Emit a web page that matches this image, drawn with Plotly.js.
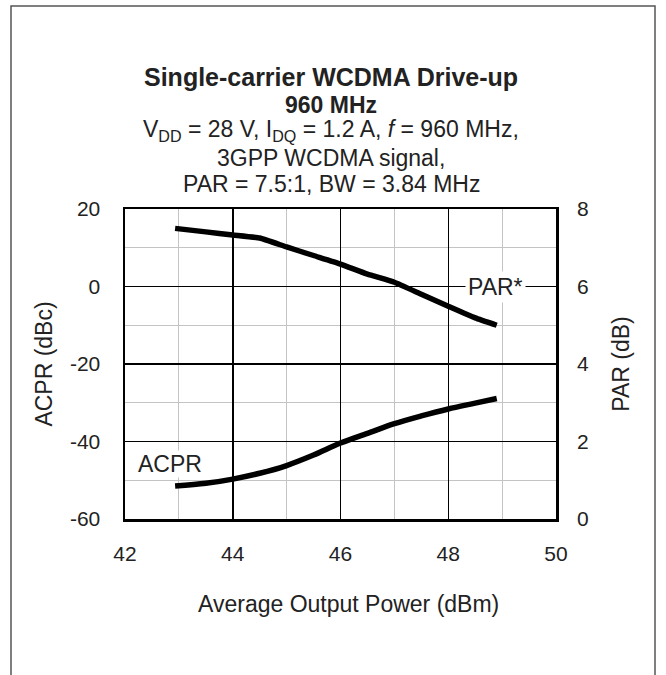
<!DOCTYPE html>
<html>
<head>
<meta charset="utf-8">
<script src="https://cdn.plot.ly/plotly-3.0.1.min.js"></script>
<style>
html,body{margin:0;padding:0;background:#fff;}
#chart{width:666px;height:675px;}
</style>
</head>
<body>
<div id="chart"></div>
<script>
// Average output power (dBm)
const pout = [42.93, 43.5, 44.0, 44.5, 45.0, 45.5, 46.0, 46.5, 47.0, 47.5, 48.0, 48.5, 48.9];
// ACPR (dBc), left axis
const acpr = [-51.5, -50.8, -49.7, -48.2, -46.2, -43.5, -40.4, -37.9, -35.4, -33.4, -31.6, -30.1, -28.9];
// PAR (dB), right axis
const par = [7.50, 7.41, 7.33, 7.25, 7.02, 6.80, 6.58, 6.32, 6.11, 5.80, 5.49, 5.19, 5.00];

const xTicks = [42, 44, 46, 48, 50];
const yTicks = [-60, -40, -20, 0, 20];
const y2Ticks = [0, 2, 4, 6, 8];

const titleLines = [
  '<b>Single-carrier WCDMA Drive-up</b>',
  '<b>960 MHz</b>',
  'V<sub>DD</sub> = 28 V, I<sub>DQ</sub> = 1.2 A, <i>f</i> = 960 MHz,',
  '3GPP WCDMA signal,',
  'PAR = 7.5:1, BW = 3.84 MHz'
];
const titleSizes = [25, 23, 23, 23, 23];

const FONT = "Liberation Sans, Arial, Helvetica, sans-serif";
const TXT = "#222222";

// plot-area geometry (px) used to place the stacked title lines
const PLOT_LEFT = 125, PLOT_RIGHT = 556, PLOT_TOP = 209, PLOT_BOTTOM = 519;
const lineCentersPx = [77, 105, 131, 158, 184];
const toPaperY = px => (PLOT_BOTTOM - px) / (PLOT_BOTTOM - PLOT_TOP);
const toPaperX = px => (px - PLOT_LEFT) / (PLOT_RIGHT - PLOT_LEFT);

const traces = [
  {x: pout, y: acpr, type: 'scatter', mode: 'lines', yaxis: 'y',
   line: {color: '#000', width: 5.5, shape: 'spline', smoothing: 0.9}, hoverinfo: 'skip', showlegend: false},
  {x: pout, y: par, type: 'scatter', mode: 'lines', yaxis: 'y2',
   line: {color: '#000', width: 5.5, shape: 'spline', smoothing: 0.4}, hoverinfo: 'skip', showlegend: false}
];

const annotations = titleLines.map((t, i) => ({
  xref: 'paper', yref: 'paper', x: toPaperX(331), y: toPaperY(lineCentersPx[i]),
  xanchor: 'center', yanchor: 'middle', showarrow: false,
  font: {size: titleSizes[i], color: TXT, family: FONT}, text: t
}));
annotations.push(
  {x: 48.88, y: 0, xref: 'x', yref: 'y', showarrow: false, text: 'PAR*',
   font: {size: 23, color: TXT, family: FONT}, bgcolor: '#fff', borderpad: 2},
  {x: 42.84, y: -45.8, xref: 'x', yref: 'y', showarrow: false, text: 'ACPR',
   font: {size: 23, color: TXT, family: FONT}, bgcolor: '#fff', borderpad: 0},
  {xref: 'paper', yref: 'paper', x: toPaperX(348), y: toPaperY(604), xanchor: 'center', yanchor: 'middle',
   showarrow: false, text: 'Average Output Power (dBm)', font: {size: 23, color: TXT, family: FONT}}
);

const layout = {
  width: 666, height: 675,
  margin: {l: 125, r: 110, t: 209, b: 156, pad: 0},
  paper_bgcolor: '#fff', plot_bgcolor: '#fff',
  font: {family: FONT, size: 21, color: TXT},
  showlegend: false,
  xaxis: {
    range: [42, 50], tickvals: xTicks, ticktext: xTicks.map(String),
    showgrid: true, gridcolor: '#000', gridwidth: 1.5,
    minor: {dtick: 1, tick0: 42, showgrid: true, gridcolor: '#c4c4c4', gridwidth: 1.2, ticks: ''},
    showline: true, linecolor: '#000', linewidth: 2.5, mirror: true,
    ticks: '', ticklabelstandoff: 14, zeroline: false,
    tickfont: {size: 21, color: TXT, family: FONT}
  },
  yaxis: {
    range: [-60, 20], tickvals: yTicks, ticktext: yTicks.map(String),
    showgrid: true, gridcolor: '#000', gridwidth: 1.5,
    minor: {dtick: 10, tick0: -60, showgrid: true, gridcolor: '#c4c4c4', gridwidth: 1.2, ticks: ''},
    showline: true, linecolor: '#000', linewidth: 2.5, mirror: true,
    ticks: '', ticklabelstandoff: 18, zeroline: false,
    tickfont: {size: 21, color: TXT, family: FONT},
    title: {text: 'ACPR (dBc)', font: {size: 23, color: TXT, family: FONT}, standoff: 11}
  },
  yaxis2: {
    range: [0, 8], tickvals: y2Ticks, ticktext: y2Ticks.map(String),
    overlaying: 'y', side: 'right', showgrid: false, zeroline: false,
    showline: false, ticks: '', ticklabelstandoff: 20,
    tickfont: {size: 21, color: TXT, family: FONT},
    title: {text: 'PAR (dB)', font: {size: 23, color: TXT, family: FONT}, standoff: 24}
  },
  annotations: annotations,
  shapes: [
    {type: 'rect', xref: 'paper', yref: 'paper', x0: -0.2645, x1: 1.2297, y0: -0.53, y1: 1.6548,
     line: {color: '#555', width: 1.5}, fillcolor: 'rgba(0,0,0,0)', layer: 'below'}
  ]
};

Plotly.newPlot('chart', traces, layout, {displayModeBar: false, staticPlot: true});
</script>
</body>
</html>
